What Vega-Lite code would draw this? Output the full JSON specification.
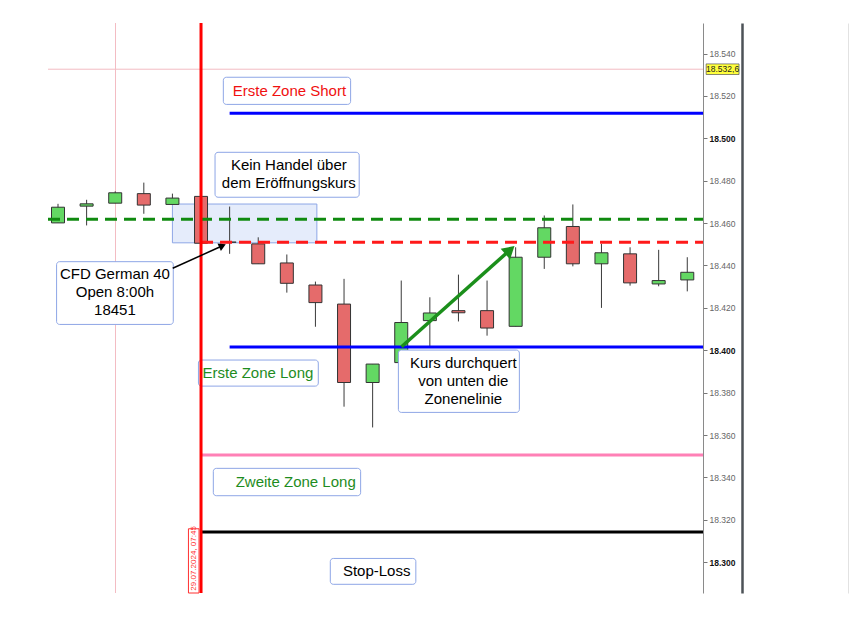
{
  "$schema": "https://vega.github.io/schema/vega-lite/v6.json",
  "width": 655,
  "height": 570,
  "autosize": "none",
  "padding": {"left": 48, "top": 23, "right": 149, "bottom": 31},
  "background": "white",
  "config": {
    "view": {"stroke": null},
    "text": {"font": "Liberation Sans"}
  },
  "datasets": {
    "candles": [
      {"i": 0, "open": 18460.1, "high": 18469.1, "low": 18460.1, "close": 18467.5},
      {"i": 1, "open": 18468.0, "high": 18471.0, "low": 18458.9, "close": 18469.1},
      {"i": 2, "open": 18469.4, "high": 18475.0, "low": 18469.4, "close": 18474.3},
      {"i": 3, "open": 18473.9, "high": 18479.1, "low": 18464.4, "close": 18468.5},
      {"i": 4, "open": 18468.8, "high": 18473.9, "low": 18468.8, "close": 18471.8},
      {"i": 5, "open": 18472.6, "high": 18472.6, "low": 18450.5, "close": 18450.5},
      {"i": 6, "open": 18451.0, "high": 18467.8, "low": 18445.5, "close": 18451.0},
      {"i": 7, "open": 18450.2, "high": 18453.3, "low": 18440.8, "close": 18440.8},
      {"i": 8, "open": 18441.2, "high": 18445.2, "low": 18427.2, "close": 18431.6},
      {"i": 9, "open": 18430.8, "high": 18432.4, "low": 18411.1, "close": 18422.5},
      {"i": 10, "open": 18421.8, "high": 18433.7, "low": 18373.4, "close": 18384.8},
      {"i": 11, "open": 18384.8, "high": 18393.5, "low": 18363.6, "close": 18393.5},
      {"i": 12, "open": 18394.2, "high": 18432.9, "low": 18394.2, "close": 18413.1},
      {"i": 13, "open": 18414.0, "high": 18425.0, "low": 18401.3, "close": 18417.6},
      {"i": 14, "open": 18418.7, "high": 18435.7, "low": 18413.6, "close": 18417.7},
      {"i": 15, "open": 18418.7, "high": 18432.9, "low": 18406.9, "close": 18410.5},
      {"i": 16, "open": 18411.3, "high": 18448.6, "low": 18411.3, "close": 18443.9},
      {"i": 17, "open": 18443.9, "high": 18463.6, "low": 18438.4, "close": 18457.8},
      {"i": 18, "open": 18458.4, "high": 18468.8, "low": 18439.6, "close": 18440.8},
      {"i": 19, "open": 18440.8, "high": 18450.2, "low": 18420.0, "close": 18446.0},
      {"i": 20, "open": 18445.5, "high": 18448.6, "low": 18430.5, "close": 18431.8},
      {"i": 21, "open": 18431.3, "high": 18447.4, "low": 18430.2, "close": 18432.9},
      {"i": 22, "open": 18433.2, "high": 18443.9, "low": 18427.8, "close": 18436.8}
    ],
    "solidLevels": [
      {"level": 18511.8, "from": 6.0, "to": 22.55, "zone": "Erste Zone Short"},
      {"level": 18401.5, "from": 6.0, "to": 22.55, "zone": "Erste Zone Long"},
      {"level": 18350.6, "from": 5.0, "to": 22.55, "zone": "Zweite Zone Long"},
      {"level": 18314.3, "from": 5.0, "to": 22.55, "zone": "Stop-Loss"}
    ],
    "dashedLevels": [
      {"level": 18461.8, "from": -0.35, "to": 22.55, "zone": "Hoch"},
      {"level": 18451.0, "from": 5.0, "to": 22.55, "zone": "Eröffnung"}
    ],
    "notes": [
      {"x0": 5.78, "x1": 10.23, "y0": 18516.0, "y1": 18528.8, "tx": 8.09, "ty": 18522.3, "label": "Erste Zone Short", "kind": "short"},
      {"x0": 5.49, "x1": 10.53, "y0": 18472.2, "y1": 18493.4, "tx": 8.07, "ty": 18487.4, "label": "Kein Handel über\ndem Eröffnungskurs", "kind": "info"},
      {"x0": -0.05, "x1": 4.03, "y0": 18412.2, "y1": 18441.8, "tx": 1.99, "ty": 18436.0, "label": "CFD German 40\nOpen 8:00h\n18451", "kind": "info"},
      {"x0": 11.9, "x1": 16.13, "y0": 18370.7, "y1": 18400.1, "tx": 14.17, "ty": 18394.0, "label": "Kurs durchquert\nvon unten die\nZonenelinie", "kind": "info"},
      {"x0": 4.91, "x1": 9.1, "y0": 18383.1, "y1": 18395.4, "tx": 6.99, "ty": 18389.1, "label": "Erste Zone Long", "kind": "long"},
      {"x0": 5.43, "x1": 10.58, "y0": 18331.4, "y1": 18344.3, "tx": 8.31, "ty": 18338.0, "label": "Zweite Zone Long", "kind": "long"},
      {"x0": 9.52, "x1": 12.51, "y0": 18289.6, "y1": 18301.8, "tx": 11.14, "ty": 18295.7, "label": "Stop-Loss", "kind": "info"}
    ]
  },
  "layer": [
    {
      "layer": [
        {
          "data": {"values": [{"price": 18532.6}]},
          "mark": {"type": "rule", "color": "#f3bcc3", "strokeWidth": 1},
          "encoding": {
            "y": {
              "field": "price", "type": "quantitative",
              "scale": {"domain": [18285.5, 18554.4], "nice": false, "zero": false},
              "axis": {
                "orient": "right",
                "values": [18300, 18320, 18340, 18360, 18380, 18400, 18420, 18440, 18460, 18480, 18500, 18520, 18540],
                "labelExpr": "replace(format(datum.value, ',.0f'), ',', '.')",
                "labelFont": "Liberation Sans",
                "labelFontSize": 8.5,
                "labelColor": {"condition": {"test": "datum.value % 100 === 0", "value": "#111111"}, "value": "#666666"},
                "labelFontWeight": {"condition": {"test": "datum.value % 100 === 0", "value": "bold"}, "value": "normal"},
                "labelPadding": 2,
                "tickSize": 4,
                "tickColor": "#777777",
                "domainColor": "#8a8a8a",
                "grid": false,
                "title": null
              }
            }
          }
        },
        {
          "data": {"values": [{"i": 2.01}]},
          "mark": {"type": "rule", "color": "#f3bcc3", "strokeWidth": 1},
          "encoding": {
            "x": {
              "field": "i", "type": "quantitative",
              "scale": {"domain": [-0.35, 22.55], "nice": false, "zero": false, "padding": 0},
              "axis": null
            }
          }
        },
        {
          "data": {"values": [{"x0": 4.0, "x1": 9.05, "y0": 18450.7, "y1": 18469.0}]},
          "mark": {"type": "rect", "fill": "#dce5fa", "fillOpacity": 0.75, "stroke": "#8ea6e6", "strokeWidth": 1},
          "encoding": {
            "x": {"field": "x0", "type": "quantitative", "axis": null},
            "x2": {"field": "x1"},
            "y": {"field": "y0", "type": "quantitative", "axis": {"orient": "right", "title": null}},
            "y2": {"field": "y1"}
          }
        },
        {
          "data": {"name": "candles"},
          "mark": {"type": "rule", "color": "#3a3a3a", "strokeWidth": 1},
          "encoding": {
            "x": {"field": "i", "type": "quantitative", "axis": null},
            "y": {"field": "low", "type": "quantitative", "axis": {"orient": "right", "title": null}},
            "y2": {"field": "high"}
          }
        },
        {
          "data": {"name": "candles"},
          "mark": {"type": "bar", "size": 13, "stroke": "#333333", "strokeWidth": 1},
          "encoding": {
            "x": {"field": "i", "type": "quantitative", "axis": null},
            "y": {"field": "open", "type": "quantitative", "axis": {"orient": "right", "title": null}},
            "y2": {"field": "close"},
            "color": {"condition": {"test": "datum.close >= datum.open", "value": "#63d863"}, "value": "#e56b6b"}
          }
        },
        {
          "data": {"name": "solidLevels"},
          "mark": {"type": "rule", "strokeWidth": 3},
          "encoding": {
            "x": {"field": "from", "type": "quantitative", "axis": null},
            "x2": {"field": "to"},
            "y": {"field": "level", "type": "quantitative", "axis": {"orient": "right", "title": null}},
            "color": {
              "field": "zone", "type": "nominal", "legend": null,
              "scale": {"domain": ["Erste Zone Short", "Erste Zone Long", "Zweite Zone Long", "Stop-Loss"], "range": ["#0000ff", "#0000ff", "#ff80b6", "#000000"]}
            }
          }
        },
        {
          "data": {"name": "dashedLevels"},
          "mark": {"type": "rule", "strokeWidth": 3, "strokeDash": [12, 7]},
          "encoding": {
            "x": {"field": "from", "type": "quantitative", "axis": null},
            "x2": {"field": "to"},
            "y": {"field": "level", "type": "quantitative", "axis": {"orient": "right", "title": null}},
            "stroke": {
              "field": "zone", "type": "nominal", "legend": null,
              "scale": {"domain": ["Hoch", "Eröffnung"], "range": ["#108a10", "#ff1a1a"]}
            }
          }
        },
        {
          "data": {"name": "notes"},
          "mark": {"type": "rect", "fill": "white", "stroke": "#8ea6e6", "strokeWidth": 1, "cornerRadius": 3},
          "encoding": {
            "x": {"field": "x0", "type": "quantitative", "axis": null},
            "x2": {"field": "x1"},
            "y": {"field": "y0", "type": "quantitative", "axis": {"orient": "right", "title": null}},
            "y2": {"field": "y1"}
          }
        },
        {
          "data": {"values": [{"i": 5.0}]},
          "mark": {"type": "rule", "color": "#ff0000", "strokeWidth": 3},
          "encoding": {
            "x": {"field": "i", "type": "quantitative", "axis": null}
          }
        },
        {
          "data": {"name": "notes"},
          "mark": {"type": "text", "fontSize": 15, "lineBreak": "\n", "lineHeight": 18, "align": "center", "baseline": "middle"},
          "encoding": {
            "x": {"field": "tx", "type": "quantitative", "axis": null},
            "y": {"field": "ty", "type": "quantitative", "axis": {"orient": "right", "title": null}},
            "text": {"field": "label", "type": "nominal"},
            "color": {
              "field": "kind", "type": "nominal", "legend": null,
              "scale": {"domain": ["short", "long", "info"], "range": ["#f01010", "#1e8c1e", "#000000"]}
            }
          }
        },
        {
          "data": {"values": [{"x0": 4.56, "x1": 4.93, "y0": 18285.5, "y1": 18315.8}]},
          "mark": {"type": "rect", "fill": "white", "stroke": "#ff3030", "strokeWidth": 1},
          "encoding": {
            "x": {"field": "x0", "type": "quantitative", "axis": null},
            "x2": {"field": "x1"},
            "y": {"field": "y0", "type": "quantitative", "axis": {"orient": "right", "title": null}},
            "y2": {"field": "y1"}
          }
        },
        {
          "data": {"values": [{"tx": 4.745, "ty": 18286.6, "label": "29.07.2024, 07:45"}]},
          "mark": {"type": "text", "fontSize": 8, "angle": 270, "align": "left", "baseline": "middle", "color": "#ff3030"},
          "encoding": {
            "x": {"field": "tx", "type": "quantitative", "axis": null},
            "y": {"field": "ty", "type": "quantitative", "axis": {"orient": "right", "title": null}},
            "text": {"field": "label", "type": "nominal"}
          }
        },
        {
          "data": {"values": [{"x0": 4.01, "y0": 18438.7, "x1": 5.75, "y1": 18449.3}]},
          "layer": [
            {
              "mark": {"type": "rule", "color": "#000000", "strokeWidth": 1.5},
              "encoding": {
                "x": {"field": "x0", "type": "quantitative", "axis": null},
                "x2": {"field": "x1"},
                "y": {"field": "y0", "type": "quantitative", "axis": {"orient": "right", "title": null}},
                "y2": {"field": "y1"}
              }
            },
            {
              "mark": {"type": "point", "shape": "triangle-right", "angle": 335.5, "size": 70, "filled": true, "opacity": 1, "color": "#000000"},
              "encoding": {
                "x": {"field": "x1", "type": "quantitative", "axis": null},
                "y": {"field": "y1", "type": "quantitative", "axis": {"orient": "right", "title": null}}
              }
            }
          ]
        },
        {
          "data": {"values": [{"x0": 12.01, "y0": 18401.7, "x1": 15.8, "y1": 18447.3}]},
          "layer": [
            {
              "mark": {"type": "rule", "color": "#1b8f1b", "strokeWidth": 3.5},
              "encoding": {
                "x": {"field": "x0", "type": "quantitative", "axis": null},
                "x2": {"field": "x1"},
                "y": {"field": "y0", "type": "quantitative", "axis": {"orient": "right", "title": null}},
                "y2": {"field": "y1"}
              }
            },
            {
              "mark": {"type": "point", "shape": "triangle-right", "angle": 318.1, "size": 200, "filled": true, "opacity": 1, "color": "#1b8f1b"},
              "encoding": {
                "x": {"field": "x1", "type": "quantitative", "axis": null},
                "y": {"field": "y1", "type": "quantitative", "axis": {"orient": "right", "title": null}}
              }
            }
          ]
        },
        {
          "data": {"values": [{"x0": 22.66, "x1": 23.81, "y0": 18530.1, "y1": 18535.1, "tx": 23.235, "price": 18532.6, "label": "18.532,6"}]},
          "layer": [
            {
              "mark": {"type": "rect", "fill": "#ffff3c", "stroke": "#555555", "strokeWidth": 0.7},
              "encoding": {
                "x": {"field": "x0", "type": "quantitative", "axis": null},
                "x2": {"field": "x1"},
                "y": {"field": "y0", "type": "quantitative", "axis": {"orient": "right", "title": null}},
                "y2": {"field": "y1"}
              }
            },
            {
              "mark": {"type": "text", "fontSize": 8.5, "align": "center", "baseline": "middle", "color": "#222222"},
              "encoding": {
                "x": {"field": "tx", "type": "quantitative", "axis": null},
                "y": {"field": "price", "type": "quantitative", "axis": {"orient": "right", "title": null}},
                "text": {"field": "label", "type": "nominal"}
              }
            }
          ]
        }
      ],
      "resolve": {"scale": {"color": "independent", "stroke": "independent"}}
    },
    {
      "data": {"values": [{"v": 18400}]},
      "mark": {"type": "rule", "opacity": 0},
      "encoding": {
        "y": {
          "field": "v", "type": "quantitative",
          "scale": {"domain": [18285.5, 18554.4], "nice": false, "zero": false},
          "axis": {"orient": "right", "labels": false, "ticks": false, "domainColor": "#4d5257", "domainWidth": 2.5, "offset": 39, "grid": false, "title": null}
        }
      }
    },
    {
      "data": {"values": [{"v": 18400}]},
      "mark": {"type": "rule", "opacity": 0},
      "encoding": {
        "y": {
          "field": "v", "type": "quantitative",
          "scale": {"domain": [18285.5, 18554.4], "nice": false, "zero": false},
          "axis": {"orient": "right", "labels": false, "ticks": false, "domainColor": "#e2e2e2", "domainWidth": 1, "offset": 145, "grid": false, "title": null}
        }
      }
    }
  ],
  "resolve": {"scale": {"y": "independent"}, "axis": {"y": "independent"}}
}
